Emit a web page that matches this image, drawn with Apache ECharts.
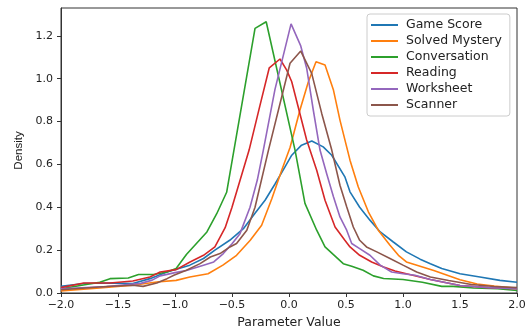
<!DOCTYPE html>
<html>
<head>
<meta charset="utf-8">
<script src="https://cdn.jsdelivr.net/npm/echarts@6/dist/echarts.min.js"></script>
<style>html,body{margin:0;padding:0;background:#fff;}#c{width:531px;height:327px;}</style>
</head>
<body>
<div id="c"></div>
<script>
const seriesNames = ["Game Score", "Solved Mystery", "Conversation", "Reading", "Worksheet", "Scanner"];
const colors = ["#1f77b4", "#ff7f0e", "#2ca02c", "#d62728", "#9467bd", "#8c564b"];

const gameScoreX = [-2, -1.8, -1.57, -1.37, -1.22, -1.07, -0.87, -0.75, -0.65, -0.52, -0.40, -0.30, -0.21, -0.12, -0.035, 0.024, 0.11, 0.20, 0.30, 0.375, 0.49, 0.535, 0.62, 0.71, 0.80, 0.915, 1.03, 1.15, 1.24, 1.34, 1.5, 1.675, 1.85, 2.0];
const gameScoreY = [0.031, 0.044, 0.047, 0.044, 0.067, 0.098, 0.13, 0.161, 0.2, 0.246, 0.30, 0.371, 0.433, 0.511, 0.589, 0.643, 0.69, 0.709, 0.682, 0.643, 0.542, 0.472, 0.40, 0.34, 0.285, 0.238, 0.192, 0.158, 0.137, 0.114, 0.09, 0.075, 0.059, 0.05];

const solvedX = [-2, -1.66, -1.37, -1.16, -0.99, -0.87, -0.71, -0.58, -0.46, -0.34, -0.24, -0.15, -0.064, 0.01, 0.096, 0.17, 0.237, 0.316, 0.39, 0.447, 0.535, 0.608, 0.696, 0.783, 0.886, 0.96, 1.03, 1.15, 1.27, 1.5, 1.65, 1.8, 2.0];
const solvedY = [0.01, 0.023, 0.036, 0.051, 0.059, 0.075, 0.09, 0.13, 0.176, 0.246, 0.316, 0.441, 0.573, 0.68, 0.854, 0.986, 1.079, 1.064, 0.947, 0.807, 0.62, 0.495, 0.379, 0.293, 0.223, 0.176, 0.145, 0.125, 0.105, 0.062, 0.042, 0.033, 0.022];

const conversationX = [-2, -1.66, -1.57, -1.41, -1.32, -1.19, -1.07, -0.99, -0.90, -0.72, -0.634, -0.547, -0.298, -0.20, 0.053, 0.14, 0.243, 0.316, 0.476, 0.55, 0.65, 0.74, 0.83, 1.0, 1.17, 1.34, 1.44, 1.62, 1.83, 2.0];
const conversationY = [0.02, 0.05, 0.067, 0.07, 0.086, 0.086, 0.098, 0.114, 0.18, 0.285, 0.37, 0.47, 1.235, 1.266, 0.667, 0.418, 0.293, 0.215, 0.137, 0.125, 0.106, 0.08, 0.068, 0.063, 0.05, 0.031, 0.031, 0.023, 0.02, 0.012];

const readingX = [-2, -1.8, -1.57, -1.37, -1.22, -1.13, -0.99, -0.868, -0.75, -0.65, -0.56, -0.50, -0.35, -0.254, -0.173, -0.079, -0.02, 0.024, 0.155, 0.243, 0.316, 0.404, 0.49, 0.535, 0.62, 0.725, 0.83, 0.93, 1.03, 1.15, 1.24, 1.5, 1.75, 2.0];
const readingY = [0.025, 0.047, 0.047, 0.056, 0.075, 0.098, 0.109, 0.145, 0.176, 0.215, 0.305, 0.40, 0.667, 0.877, 1.051, 1.092, 1.04, 0.986, 0.714, 0.573, 0.433, 0.308, 0.246, 0.215, 0.176, 0.145, 0.121, 0.103, 0.09, 0.075, 0.063, 0.035, 0.025, 0.02];

const worksheetX = [-2, -1.6, -1.3, -1.2, -1.13, -1.0, -0.9, -0.75, -0.66, -0.576, -0.50, -0.43, -0.342, -0.278, -0.225, -0.123, 0.018, 0.103, 0.155, 0.213, 0.272, 0.33, 0.39, 0.447, 0.506, 0.55, 0.62, 0.71, 0.80, 0.90, 1.0, 1.105, 1.24, 1.5, 1.75, 2.0];
const worksheetY = [0.02, 0.03, 0.045, 0.06, 0.08, 0.095, 0.105, 0.13, 0.145, 0.184, 0.23, 0.277, 0.40, 0.527, 0.667, 0.95, 1.256, 1.153, 1.049, 0.854, 0.667, 0.558, 0.449, 0.355, 0.293, 0.231, 0.207, 0.176, 0.13, 0.098, 0.09, 0.083, 0.063, 0.035, 0.025, 0.02];

const scannerX = [-2, -1.6, -1.37, -1.28, -1.16, -1.07, -1.01, -0.9, -0.78, -0.69, -0.605, -0.518, -0.46, -0.37, -0.298, -0.18, 0.009, 0.103, 0.199, 0.287, 0.375, 0.447, 0.506, 0.564, 0.62, 0.68, 0.77, 0.886, 1.0, 1.12, 1.24, 1.4, 1.6, 1.8, 2.0];
const scannerY = [0.015, 0.03, 0.036, 0.031, 0.047, 0.067, 0.083, 0.106, 0.137, 0.168, 0.184, 0.215, 0.231, 0.293, 0.40, 0.667, 1.072, 1.129, 1.025, 0.838, 0.667, 0.503, 0.402, 0.308, 0.246, 0.215, 0.192, 0.161, 0.13, 0.098, 0.075, 0.058, 0.04, 0.03, 0.025];

const xTicks = [-2.0, -1.5, -1.0, -0.5, 0.0, 0.5, 1.0, 1.5, 2.0];
const yTicks = [0.0, 0.2, 0.4, 0.6, 0.8, 1.0, 1.2];

const allX = [gameScoreX, solvedX, conversationX, readingX, worksheetX, scannerX];
const allY = [gameScoreY, solvedY, conversationY, readingY, worksheetY, scannerY];

const FONT = "DejaVu Sans";
const fmt = v => (v < 0 ? "\u2212" : "") + Math.abs(v).toFixed(1);

const chart = echarts.init(document.getElementById("c"), null, {renderer: "canvas"});
chart.setOption({
  animation: false,
  backgroundColor: "#fff",
  grid: {left: 61, right: 14, top: 8, bottom: 34, outerBoundsMode: "none", containLabel: false,
    show: true, borderColor: "#333", borderWidth: 1, backgroundColor: "transparent"},
  legend: {
    orient: "vertical", left: 367, top: 14,
    padding: [3, 8, 3, 4], itemGap: 0, itemWidth: 27, itemHeight: 2, icon: "rect",
    backgroundColor: "rgba(255,255,255,0.8)", borderColor: "#ccc", borderWidth: 1, borderRadius: 3,
    textStyle: {fontFamily: FONT, fontSize: 12.5, color: "#222", padding: [0, 0, 0, 3], lineHeight: 16},
    data: seriesNames
  },
  xAxis: {
    type: "value", min: -2, max: 2, interval: 0.5,
    name: "Parameter Value", nameLocation: "middle", nameGap: 19,
    nameTextStyle: {fontFamily: FONT, fontSize: 12.5, color: "#222"},
    axisLine: {show: true, onZero: false, lineStyle: {color: "#333", width: 1}},
    axisTick: {show: true, length: 4, lineStyle: {color: "#333"}},
    axisLabel: {fontFamily: FONT, fontSize: 11, color: "#222", margin: 7,
      formatter: v => xTicks.some(t => Math.abs(t - v) < 1e-9) ? fmt(v) : ""},
    splitLine: {show: false}
  },
  yAxis: {
    type: "value", min: 0, max: 1.33, interval: 0.2,
    name: "Density", nameLocation: "middle", nameGap: 34, nameRotate: 90,
    nameTextStyle: {fontFamily: "Liberation Sans", fontSize: 11.5, color: "#222"},
    axisLine: {show: true, onZero: false, lineStyle: {color: "#333", width: 1}},
    axisTick: {show: true, length: 4, lineStyle: {color: "#333"}},
    axisLabel: {fontFamily: FONT, fontSize: 11, color: "#222", margin: 8, showMaxLabel: false,
      formatter: v => yTicks.some(t => Math.abs(t - v) < 1e-9) ? v.toFixed(1) : ""},
    splitLine: {show: false}
  },
  series: seriesNames.map((n, i) => ({
    name: n, type: "line", symbol: "none", showSymbol: false,
    data: allX[i].map((x, j) => [x, allY[i][j]]),
    lineStyle: {color: colors[i], width: 1.6},
    itemStyle: {color: colors[i]},
    clip: true
  }))
});
</script>
</body>
</html>
